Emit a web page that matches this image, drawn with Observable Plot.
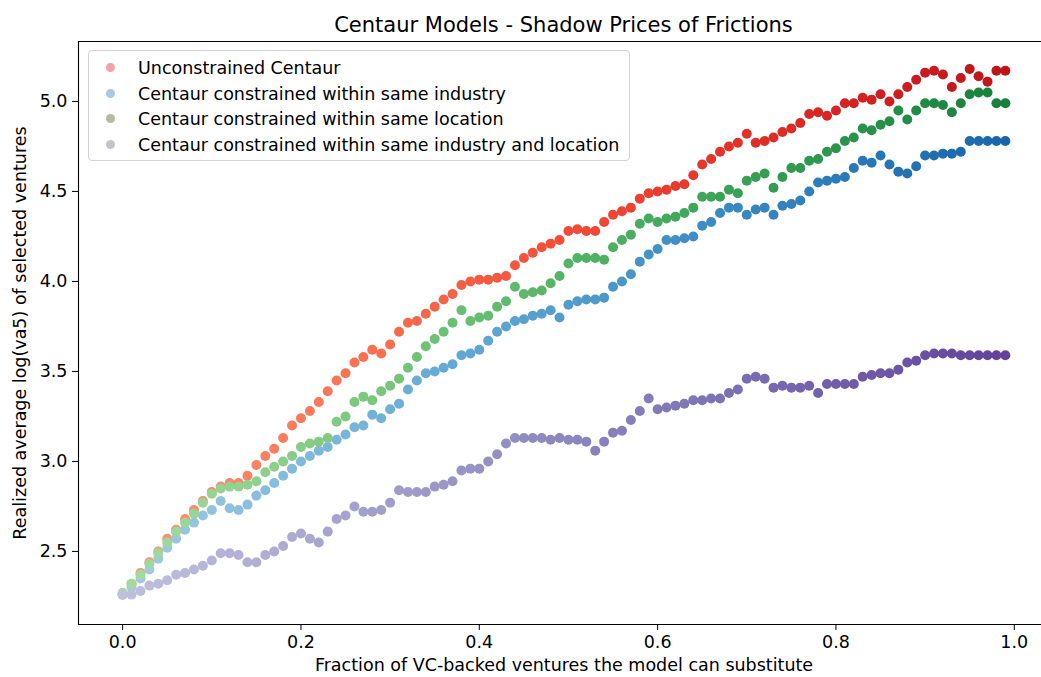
<!DOCTYPE html>
<html>
<head>
<meta charset="utf-8">
<script src="https://cdn.jsdelivr.net/npm/d3@7"></script>
<script src="https://cdn.jsdelivr.net/npm/@observablehq/plot@0.6"></script>
<style>
  html, body { margin: 0; padding: 0; background: #fff; }
  body { width: 1041px; height: 677px; overflow: hidden; position: relative; font-family: "DejaVu Sans", sans-serif; color: #000; }
  #title { position: absolute; left: 0; width: 1127px; top: 10px; height: 30px; line-height: 30px; text-align: center; font-size: 21px; }
  #chart { position: absolute; left: 0; top: 0; width: 1041px; height: 677px; overflow: hidden; }
  #chart svg { max-width: none !important; width: 1041px; height: 677px; overflow: hidden; }
  #legend { position: absolute; left: 88px; top: 50px; width: 542px; height: 111px; border: 1px solid #d3d3d3; border-radius: 4px; background: rgba(255,255,255,0.8); box-sizing: border-box; font-size: 17.5px; }
  .row { position: absolute; left: 0; height: 24px; line-height: 24px; white-space: nowrap; }
  .mk { position: absolute; left: 17px; top: 7px; width: 9px; height: 9px; border-radius: 50%; }
  .tx { position: absolute; left: 49px; top: 0; }
</style>
</head>
<body>
<div id="chart"></div>
<div id="title">Centaur Models - Shadow Prices of Frictions</div>
<div id="legend"></div>
<script>
// ---- data ----
const fractions = [
  0.00,0.01,0.02,0.03,0.04,0.05,0.06,0.07,0.08,0.09,
  0.10,0.11,0.12,0.13,0.14,0.15,0.16,0.17,0.18,0.19,
  0.20,0.21,0.22,0.23,0.24,0.25,0.26,0.27,0.28,0.29,
  0.30,0.31,0.32,0.33,0.34,0.35,0.36,0.37,0.38,0.39,
  0.40,0.41,0.42,0.43,0.44,0.45,0.46,0.47,0.48,0.49,
  0.50,0.51,0.52,0.53,0.54,0.55,0.56,0.57,0.58,0.59,
  0.60,0.61,0.62,0.63,0.64,0.65,0.66,0.67,0.68,0.69,
  0.70,0.71,0.72,0.73,0.74,0.75,0.76,0.77,0.78,0.79,
  0.80,0.81,0.82,0.83,0.84,0.85,0.86,0.87,0.88,0.89,
  0.90,0.91,0.92,0.93,0.94,0.95,0.96,0.97,0.98,0.99
];
const unconstrained = [
  2.26,2.32,2.38,2.44,2.50,2.57,2.62,2.68,2.73,2.78,
  2.83,2.86,2.88,2.88,2.92,2.98,3.03,3.07,3.13,3.20,
  3.24,3.28,3.33,3.39,3.45,3.49,3.55,3.58,3.62,3.60,
  3.65,3.72,3.77,3.78,3.82,3.86,3.90,3.93,3.98,4.00,
  4.01,4.01,4.02,4.03,4.09,4.13,4.16,4.19,4.21,4.23,
  4.28,4.29,4.28,4.28,4.33,4.37,4.39,4.41,4.46,4.49,
  4.50,4.51,4.53,4.54,4.59,4.65,4.68,4.72,4.75,4.77,
  4.82,4.77,4.78,4.80,4.83,4.85,4.88,4.93,4.94,4.92,
  4.95,4.99,4.99,5.02,5.01,5.04,5.00,5.04,5.08,5.12,
  5.16,5.17,5.15,5.08,5.13,5.18,5.14,5.11,5.17,5.17
];
const sameIndustry = [
  2.26,2.30,2.35,2.40,2.46,2.52,2.57,2.62,2.66,2.70,
  2.73,2.78,2.74,2.73,2.76,2.81,2.84,2.88,2.92,2.96,
  3.00,3.03,3.06,3.08,3.12,3.15,3.19,3.20,3.26,3.24,
  3.29,3.32,3.40,3.45,3.49,3.50,3.52,3.54,3.59,3.60,
  3.62,3.67,3.72,3.75,3.78,3.79,3.81,3.82,3.84,3.80,
  3.87,3.89,3.90,3.90,3.91,3.97,4.00,4.04,4.11,4.15,
  4.18,4.23,4.23,4.24,4.25,4.31,4.33,4.38,4.41,4.41,
  4.37,4.40,4.41,4.37,4.42,4.43,4.45,4.50,4.55,4.56,
  4.57,4.58,4.63,4.67,4.66,4.70,4.65,4.61,4.60,4.64,
  4.70,4.70,4.71,4.71,4.72,4.78,4.78,4.78,4.78,4.78
];
const sameLocation = [
  2.27,2.32,2.37,2.43,2.49,2.55,2.61,2.66,2.71,2.77,
  2.82,2.85,2.86,2.86,2.87,2.89,2.94,2.97,3.00,3.03,
  3.08,3.10,3.11,3.13,3.22,3.25,3.33,3.36,3.34,3.39,
  3.42,3.46,3.52,3.58,3.64,3.68,3.72,3.77,3.84,3.78,
  3.80,3.81,3.86,3.89,3.97,3.93,3.94,3.95,3.99,4.03,
  4.10,4.13,4.13,4.13,4.12,4.19,4.23,4.26,4.32,4.35,
  4.33,4.35,4.36,4.38,4.41,4.47,4.47,4.47,4.51,4.49,
  4.56,4.58,4.60,4.52,4.58,4.63,4.63,4.67,4.68,4.72,
  4.74,4.78,4.80,4.85,4.84,4.87,4.89,4.95,4.90,4.95,
  4.99,4.99,4.98,4.94,4.99,5.04,5.05,5.05,4.99,4.99
];
const industryAndLocation = [
  2.26,2.26,2.28,2.31,2.32,2.34,2.37,2.38,2.40,2.42,
  2.45,2.49,2.49,2.48,2.44,2.44,2.48,2.50,2.53,2.58,
  2.60,2.57,2.55,2.61,2.68,2.70,2.75,2.72,2.72,2.73,
  2.77,2.84,2.83,2.83,2.83,2.86,2.87,2.89,2.95,2.96,
  2.96,3.00,3.04,3.10,3.13,3.13,3.13,3.13,3.12,3.13,
  3.12,3.12,3.11,3.06,3.11,3.16,3.17,3.23,3.28,3.35,
  3.29,3.30,3.31,3.32,3.34,3.34,3.35,3.35,3.38,3.40,
  3.46,3.47,3.46,3.41,3.42,3.41,3.41,3.42,3.38,3.43,
  3.43,3.43,3.43,3.47,3.48,3.49,3.49,3.51,3.55,3.56,
  3.59,3.60,3.60,3.60,3.59,3.59,3.59,3.59,3.59,3.59
];
const seriesNames = [
  "Unconstrained Centaur",
  "Centaur constrained within same industry",
  "Centaur constrained within same location",
  "Centaur constrained within same industry and location"
];
const xTicks = [0.0, 0.2, 0.4, 0.6, 0.8, 1.0];
const yTicks = [2.5, 3.0, 3.5, 4.0, 4.5, 5.0];
const xLabel = "Fraction of VC-backed ventures the model can substitute";
const yLabel = "Realized average log(va5) of selected ventures";

// ---- styling ----
const seriesValues = [unconstrained, sameIndustry, sameLocation, industryAndLocation];
const ramps = [d3.interpolateReds, d3.interpolateBlues, d3.interpolateGreens, d3.interpolatePurples];
const legendColors = ["#f3a3a5", "#a9c9e2", "#b9b99e", "#c3c3c9"];
const shade = (ramp, x) => ramp(0.36 + 0.44 * x);

const dotMarks = seriesValues.map((vals, s) => {
  const rows = fractions.map((f, i) => ({f, v: vals[i]}));
  return Plot.dot(rows, {x: "f", y: "v", r: 5, fill: d => shade(ramps[s], d.f), stroke: "none"});
});

const FS = 17.5;
const plot = Plot.plot({
  width: 1041,
  height: 677,
  marginLeft: 78,
  marginRight: -8,
  marginTop: 41,
  marginBottom: 53,
  style: {fontFamily: "DejaVu Sans, sans-serif", fontSize: FS + "px", color: "#000", background: "#fff", overflow: "hidden", maxWidth: "none"},
  x: {domain: [-0.0495, 1.0395]},
  y: {domain: [2.094, 5.333]},
  color: {type: "identity"},
  marks: [
    Plot.axisX({ticks: xTicks, tickFormat: d3.format(".1f"), tickSize: 6, tickPadding: 5, fontSize: FS,
      label: xLabel, labelAnchor: "center", labelArrow: "none", labelOffset: 46}),
    Plot.axisY({ticks: yTicks, tickFormat: d3.format(".1f"), tickSize: 6, tickPadding: 5, fontSize: FS,
      label: yLabel, labelAnchor: "center", labelArrow: "none", labelOffset: 65}),
    ...dotMarks,
    Plot.frame({anchor: "top", stroke: "#000", strokeWidth: 1.1}),
    Plot.frame({anchor: "left", stroke: "#000", strokeWidth: 1.1}),
    Plot.frame({anchor: "bottom", stroke: "#000", strokeWidth: 1.1})
  ]
});
document.getElementById("chart").appendChild(plot);

// ---- legend ----
const lg = document.getElementById("legend");
seriesNames.forEach((name, i) => {
  const row = document.createElement("div");
  row.className = "row";
  row.style.top = (5 + i * 25.5) + "px";
  const mk = document.createElement("span");
  mk.className = "mk";
  mk.style.background = legendColors[i];
  const tx = document.createElement("span");
  tx.className = "tx";
  tx.textContent = name;
  row.appendChild(mk);
  row.appendChild(tx);
  lg.appendChild(row);
});
</script>
</body>
</html>
